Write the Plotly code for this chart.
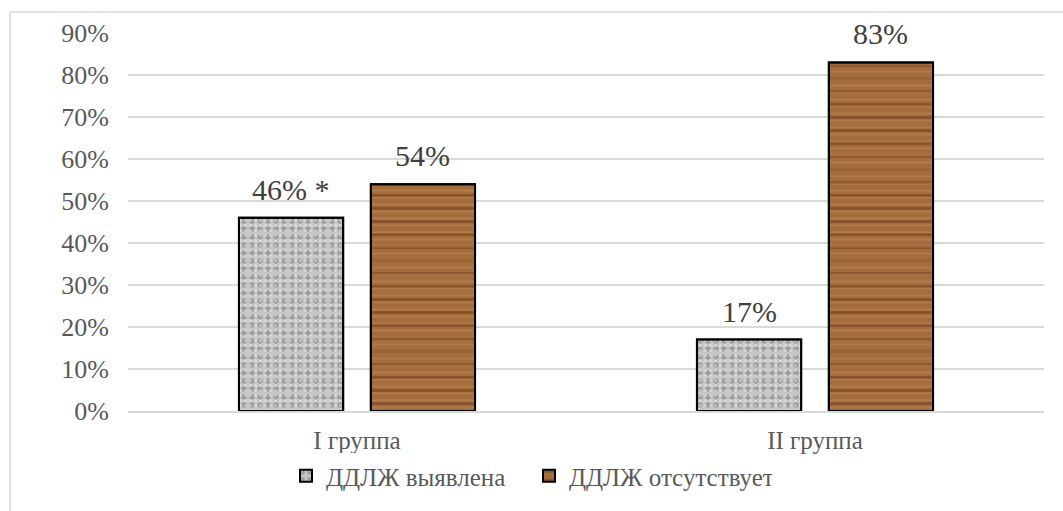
import plotly.graph_objects as go

groups = ["I группа", "II группа"]
detected = [0.46, 0.17]
absent = [0.54, 0.83]
detected_labels = ["46% *", "17%"]
absent_labels = ["54%", "83%"]
series_names = ["ДДЛЖ выявлена", "ДДЛЖ отсутствует"]
tick_vals = [0, 0.1, 0.2, 0.3, 0.4, 0.5, 0.6, 0.7, 0.8, 0.9]
tick_text = ["0%", "10%", "20%", "30%", "40%", "50%", "60%", "70%", "80%", "90%"]

FONT = "Liberation Serif, serif"
BARGAP = 0.424
BARGROUPGAP = 0.21
PLOT_W = 1063 - 128 - 19

fig = go.Figure()

# granite-like speckled fill: base speckle + lighter overlay speckle
fig.add_trace(go.Bar(
    x=groups, y=detected, name=series_names[0], offsetgroup="a",
    marker=dict(
        color="#c2c2c2",
        line=dict(color="#000000", width=2),
        pattern=dict(shape=".", bgcolor="#c6c6c6", fgcolor="#747474",
                     size=8, solidity=0.35, fillmode="overlay"),
    ),
))
fig.add_trace(go.Bar(
    x=groups, y=detected, name=series_names[0], offsetgroup="a",
    showlegend=False, hoverinfo="skip",
    marker=dict(
        color="rgba(0,0,0,0)",
        line=dict(color="#000000", width=2),
        pattern=dict(shape=".", bgcolor="rgba(0,0,0,0)", fgcolor="rgba(240,240,240,0.85)",
                     size=5, solidity=0.3, fillmode="overlay"),
    ),
))

# wood-grain fill: dark grain + light streaks
fig.add_trace(go.Bar(
    x=groups, y=absent, name=series_names[1], offsetgroup="b",
    marker=dict(
        color="#a56d3d",
        line=dict(color="#000000", width=2),
        pattern=dict(shape="-", bgcolor="#a56d3d", fgcolor="#6a3a1a",
                     size=13, solidity=0.22, fillmode="overlay"),
    ),
))
fig.add_trace(go.Bar(
    x=groups, y=absent, name=series_names[1], offsetgroup="b",
    showlegend=False, hoverinfo="skip",
    marker=dict(
        color="rgba(0,0,0,0)",
        line=dict(color="#000000", width=2),
        pattern=dict(shape="-", bgcolor="rgba(0,0,0,0)", fgcolor="rgba(205,155,95,0.6)",
                     size=7, solidity=0.3, fillmode="overlay"),
    ),
))

# value labels above each bar
slot_px = PLOT_W / len(groups) * (1 - BARGAP) / 2
for vals, labels, side in ((detected, detected_labels, -1), (absent, absent_labels, 1)):
    for g, v, lab in zip(groups, vals, labels):
        fig.add_annotation(
            x=g, y=v, text=lab, showarrow=False,
            xshift=side * slot_px / 2, yshift=10, yanchor="bottom",
            font=dict(family=FONT, size=30, color="#404040"),
        )

fig.update_layout(
    width=1063, height=511,
    margin=dict(l=128, r=19, t=33, b=100),
    paper_bgcolor="white", plot_bgcolor="white",
    barmode="group", bargap=BARGAP, bargroupgap=BARGROUPGAP,
    font=dict(family=FONT, color="#595959"),
    showlegend=True,
    legend=dict(
        orientation="h", x=0.1725, xanchor="left", y=-0.172, yanchor="middle",
        font=dict(family=FONT, size=25, color="#595959"),
        itemwidth=30, tracegroupgap=0,
        entrywidth=198, entrywidthmode="pixels",
    ),
    xaxis=dict(
        showgrid=False, showline=True, linecolor="#d9d9d9", linewidth=1.5,
        ticks="", ticklabelstandoff=6,
        tickfont=dict(family=FONT, size=25, color="#595959"),
    ),
    yaxis=dict(
        range=[0, 0.9], tickvals=tick_vals, ticktext=tick_text,
        showgrid=True, gridcolor="#d9d9d9", gridwidth=1.5,
        zeroline=False, showline=False, ticks="",
        ticklabelstandoff=18,
        tickfont=dict(family=FONT, size=26, color="#595959"),
    ),
    shapes=[dict(
        type="rect", xref="paper", yref="paper",
        x0=-0.1288, x1=1.1, y0=-0.4, y1=1.0556,
        line=dict(color="#d9d9d9", width=1.5), fillcolor="rgba(0,0,0,0)",
        layer="below",
    )],
)

fig.write_html("out.html")
